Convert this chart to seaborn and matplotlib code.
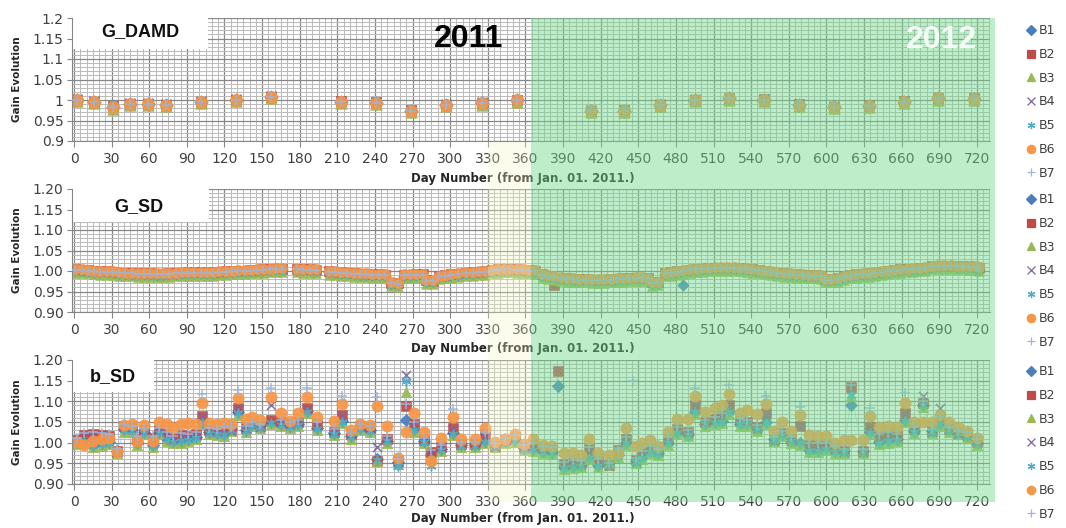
import numpy as np
import pandas as pd
import matplotlib
matplotlib.use("Agg")
import matplotlib.pyplot as plt
import seaborn as sns
from matplotlib import font_manager
from matplotlib.lines import Line2D
from matplotlib.patches import Rectangle
from matplotlib.ticker import MultipleLocator
from matplotlib.transforms import blended_transform_factory

sns.set_theme(style="white")
plt.rcParams["font.family"] = ["DejaVu Sans"]

# ---------------------------------------------------------------- bands
BANDS = ["B1", "B2", "B3", "B4", "B5", "B6", "B7"]
band_colors = ["#4A7EBB", "#BE4B48", "#98B954", "#8064A2", "#4BACC6", "#F79646", "#9DB5D8"]
band_markers = ["D", "s", "^", "x", (6, 2, 0), "o", "+"]
band_sizes = [40, 52, 58, 42, 42, 66, 44]

# ---------------------------------------------------------------- G_DAMD
gdamd_days = [2, 16, 31, 45, 59, 73, 101, 129, 157, 213, 241, 269, 297, 325, 353,
              412, 439, 467, 495, 522, 550, 578, 606, 634, 662, 689, 718]
gdamd_level = [1.000, 0.995, 0.984, 0.990, 0.990, 0.988, 0.995, 1.000, 1.007, 0.996,
               0.993, 0.974, 0.988, 0.992, 0.999, 0.973, 0.974, 0.988, 1.000, 1.004,
               1.001, 0.989, 0.983, 0.986, 0.996, 1.004, 1.003]
gdamd_offsets = [0.000, 0.001, -0.003, 0.002, -0.001, 0.000, 0.000]
gdamd_overrides = {"B3": {31: 0.979}}

# ---------------------------------------------------------------- G_SD
gsd_days = [1, 6, 11, 16, 21, 26, 31, 36, 41, 46, 51, 56, 61, 66, 71, 76, 81, 86, 91, 96,
            101, 106, 111, 116, 121, 126, 131, 136, 141, 146, 151, 156, 161, 166,
            178, 183, 188, 193, 203, 208, 213, 218, 223, 228, 233, 238, 243, 248, 253, 258,
            263, 268, 273, 278, 281, 286, 291, 296, 301, 306, 313, 318, 323, 328, 333, 338,
            343, 348, 353, 358, 363, 368, 373, 378, 383, 388, 393, 398, 403, 408, 413, 418,
            423, 428, 433, 438, 443, 448, 453, 458, 461, 466, 471, 476, 481, 486, 491, 496,
            501, 506, 511, 516, 521, 526, 531, 536, 541, 546, 551, 556, 561, 566, 571, 576,
            581, 586, 591, 596, 599, 604, 609, 614, 619, 624, 629, 634, 639, 644, 649, 654,
            659, 664, 669, 674, 679, 684, 689, 694, 699, 704, 709, 714, 719, 722]
gsd_level = [1.002, 1.001, 1.000, 0.998, 0.997, 0.997, 0.996, 0.994, 0.993, 0.993,
             0.992, 0.992, 0.992, 0.991, 0.991, 0.992, 0.993, 0.994, 0.995, 0.995,
             0.995, 0.995, 0.995, 0.996, 0.997, 0.998, 0.999, 0.999, 1.000, 1.001,
             1.002, 1.003, 1.004, 1.004,
             1.003, 1.002, 1.002, 1.001, 0.997, 0.996, 0.995, 0.994, 0.992, 0.991,
             0.991, 0.990, 0.990, 0.989, 0.969, 0.968,
             0.989, 0.989, 0.990, 0.990, 0.975, 0.974, 0.986, 0.988, 0.990, 0.991,
             0.994, 0.995, 0.996, 0.997, 1.000, 1.002,
             1.003, 1.003, 1.002, 1.001, 1.000, 0.999, 0.990, 0.987, 0.985, 0.982,
             0.980, 0.979, 0.978, 0.978, 0.977, 0.977,
             0.977, 0.978, 0.979, 0.980, 0.981, 0.982, 0.982, 0.981, 0.970, 0.971,
             0.993, 0.995, 0.997, 0.999, 1.001, 1.003,
             1.004, 1.005, 1.006, 1.006, 1.006, 1.006, 1.005, 1.004, 1.002, 1.000,
             0.998, 0.996, 0.994, 0.992, 0.991, 0.990,
             0.989, 0.988, 0.988, 0.987, 0.978, 0.978, 0.980, 0.985, 0.988, 0.990,
             0.991, 0.992, 0.994, 0.996, 0.998, 1.000,
             1.002, 1.003, 1.004, 1.005, 1.006, 1.010, 1.011, 1.011, 1.011, 1.010,
             1.010, 1.009, 1.008, 1.006]
gsd_offsets = [0.000, 0.002, -0.006, 0.001, -0.002, 0.003, 0.001]
gsd_overrides = {"B1": {486: 0.966}, "B2": {383: 0.967}}

# ---------------------------------------------------------------- b_SD
bsd_days = [2, 8, 15, 22, 28, 34, 40, 46, 50, 56, 63, 68, 74, 79, 85, 91, 97, 102, 108,
            114, 120, 125, 131, 137, 142, 148, 157, 165, 172, 179, 186, 194, 207, 214,
            221, 228, 236, 242, 250, 258, 265, 271, 279, 285, 293, 302, 309, 320, 328,
            336, 344, 352, 359, 366, 374, 381, 391, 398, 404, 411, 418, 427, 434, 440,
            448, 453, 459, 466, 474, 481, 490, 495, 503, 511, 517, 522, 531, 537, 545,
            552, 558, 565, 572, 579, 586, 593, 600, 607, 614, 620, 629, 635, 642, 649,
            656, 663, 670, 677, 684, 691, 698, 705, 712, 720]
bsd_b6 = [1.002, 0.995, 1.003, 1.008, 1.012, 0.978, 1.043, 1.045, 1.005, 1.043, 1.005,
          1.050, 1.045, 1.035, 1.045, 1.048, 1.045, 1.097, 1.048, 1.045, 1.048, 1.045,
          1.107, 1.058, 1.062, 1.055, 1.110, 1.071, 1.052, 1.072, 1.110, 1.063, 1.052,
          1.093, 1.030, 1.045, 1.043, 1.089, 1.040, 0.964, 1.027, 1.072, 1.027, 0.956,
          1.012, 1.062, 1.008, 1.008, 1.035, 1.002, 1.010, 1.022, 0.997, 1.010, 0.995,
          0.992, 0.974, 0.974, 0.970, 1.009, 0.976, 0.970, 0.975, 1.035, 0.991, 1.000,
          1.006, 0.991, 1.027, 1.058, 1.058, 1.113, 1.075, 1.083, 1.092, 1.117, 1.072,
          1.079, 1.069, 1.093, 1.029, 1.050, 1.029, 1.067, 1.019, 1.016, 1.016, 0.999,
          1.007, 1.007, 1.007, 1.064, 1.037, 1.041, 1.037, 1.096, 1.050, 1.050, 1.050,
          1.067, 1.050, 1.037, 1.029, 1.012]
bsd_b2 = [1.006, 1.018, 1.020, 1.018, 1.015, 0.980, 1.040, 1.035, 1.010, 1.030, 1.012,
          1.030, 1.020, 1.012, 1.018, 1.015, 1.020, 1.064, 1.030, 1.028, 1.035, 1.032,
          1.085, 1.035, 1.045, 1.040, 1.055, 1.050, 1.045, 1.050, 1.085, 1.045, 1.027,
          1.068, 1.022, 1.040, 1.035, 0.956, 1.010, 0.956, 1.089, 1.044, 1.006, 0.977,
          0.990, 1.035, 0.997, 0.997, 1.020, 0.993, 1.006, 1.014, 0.990, 0.995, 0.988,
          0.985, 0.949, 0.952, 0.950, 0.985, 0.955, 0.946, 0.982, 1.008, 0.957, 0.975,
          0.987, 0.980, 1.008, 1.033, 1.025, 1.092, 1.050, 1.058, 1.066, 1.092, 1.054,
          1.050, 1.037, 1.071, 1.008, 1.024, 1.008, 1.041, 0.995, 0.995, 0.995, 0.987,
          0.980, 1.134, 0.980, 1.037, 1.016, 1.020, 1.016, 1.071, 1.033, 1.096, 1.029,
          1.058, 1.033, 1.024, 1.020, 1.003]
bsd_b3 = [0.996, 1.000, 0.990, 0.993, 0.997, 0.974, 1.027, 1.025, 0.995, 1.020, 0.990,
          1.020, 1.005, 0.998, 1.000, 1.003, 1.008, 1.045, 1.020, 1.018, 1.015, 1.028,
          1.068, 1.025, 1.040, 1.035, 1.045, 1.040, 1.035, 1.040, 1.072, 1.030, 1.018,
          1.048, 1.010, 1.030, 1.025, 0.956, 1.000, 0.948, 1.123, 1.027, 0.998, 0.965,
          0.980, 1.018, 0.990, 0.990, 0.998, 0.990, 0.998, 1.002, 0.982, 0.980, 0.974,
          0.972, 0.936, 0.938, 0.940, 0.960, 0.940, 0.948, 0.965, 0.995, 0.951, 0.960,
          0.975, 0.970, 0.995, 1.020, 1.016, 1.070, 1.041, 1.045, 1.048, 1.070, 1.041,
          1.041, 1.029, 1.045, 1.003, 1.016, 1.000, 0.995, 0.978, 0.978, 0.982, 0.974,
          0.974, 1.113, 0.974, 1.020, 0.997, 1.000, 1.003, 1.050, 1.024, 1.087, 1.024,
          1.041, 1.027, 1.020, 1.012, 0.995]
# each band follows one of the three curves above, shifted slightly
bsd_follow = ["B3", "B2", "B3", "B2", "B3", "B6", "B2"]
bsd_offsets = [0.005, 0.0, 0.0, -0.003, 0.003, 0.0, 0.005]
bsd_overrides = {
    "B1": {265: 1.054, 620: 1.092},
    "B4": {157: 1.090, 242: 0.990, 265: 1.164, 677: 1.113, 691: 1.083},
    "B5": {258: 0.943, 265: 1.150, 285: 0.943},
    "B7": {102: 1.117, 131: 1.127, 157: 1.133, 186: 1.133, 214: 1.112, 242: 1.110,
           302: 1.082, 495: 1.132, 522: 1.140, 552: 1.112, 579: 1.087, 635: 1.085,
           663: 1.120},
}
bsd_extra = {"B1": [(386, 1.138)], "B2": [(386, 1.173)], "B7": [(446, 1.148)]}


def long_frame(days, curves, follow, offsets, overrides, extra=None):
    rows = []
    for band, src, off in zip(BANDS, follow, offsets):
        ov = overrides.get(band, {})
        for d, v in zip(days, curves[src]):
            rows.append((d, ov.get(d, round(v + off, 4)), band))
        for d, v in (extra or {}).get(band, []):
            rows.append((d, v, band))
    return pd.DataFrame(rows, columns=["day", "gain", "band"]).sort_values(["band", "day"])


df_damd = long_frame(gdamd_days, {"L": gdamd_level}, ["L"] * 7, gdamd_offsets, gdamd_overrides)
df_gsd = long_frame(gsd_days, {"L": gsd_level}, ["L"] * 7, gsd_offsets, gsd_overrides)
df_bsd = long_frame(bsd_days, {"B6": bsd_b6, "B2": bsd_b2, "B3": bsd_b3},
                    bsd_follow, bsd_offsets, bsd_overrides, bsd_extra)

# ---------------------------------------------------------------- figure
W, H = 1066, 528
fig = plt.figure(figsize=(W / 100, H / 100), dpi=100)
fig.patch.set_facecolor("white")

X0, X1 = 72, 990
panels = [(18, 141), (189, 312), (360, 484)]
axes = [fig.add_axes([X0 / W, 1 - b / H, (X1 - X0) / W, (b - t) / H]) for t, b in panels]

TXT = "#404040"
GRID_MAJOR = "#878787"
GRID_MINOR = "#bcbcbc"

ylabels_plain = ["0.9", "0.95", "1", "1.05", "1.1", "1.15", "1.2"]
ylabels_2dp = ["0.90", "0.95", "1.00", "1.05", "1.10", "1.15", "1.20"]

cfg = [
    dict(df=df_damd, title="G_DAMD", box=(107, 1.124), tpos=(53, 1.166), ylab=ylabels_plain,
         scale=1.2, xlab_y=-0.252),
    dict(df=df_gsd, title="G_SD", box=(108, 1.120), tpos=(52, 1.158), ylab=ylabels_2dp,
         scale=0.85, xlab_y=-0.245),
    dict(df=df_bsd, title="b_SD", box=(64, 1.122), tpos=(31, 1.160), ylab=ylabels_2dp,
         scale=1.0, xlab_y=-0.225),
]

legend_centers = [102, 271, 443]

for ax, c, lc in zip(axes, cfg, legend_centers):
    ax.set_facecolor("white")
    ax.set_xlim(-1.6, 730.5)
    ax.set_ylim(0.9, 1.2)
    ax.set_xticks(np.arange(0, 721, 30))
    ax.xaxis.set_minor_locator(MultipleLocator(5))
    ax.set_yticks(np.round(np.arange(0.9, 1.2001, 0.05), 2))
    ax.set_yticklabels(c["ylab"])
    ax.yaxis.set_minor_locator(MultipleLocator(0.01))
    ax.set_axisbelow(True)
    ax.grid(which="major", color=GRID_MAJOR, lw=0.9)
    ax.grid(which="minor", color=GRID_MINOR, lw=0.75)
    ax.tick_params(which="minor", length=0)
    ax.tick_params(axis="both", which="major", bottom=True, left=True, direction="out",
                   color="#868686", width=0.8, labelsize=10, labelcolor=TXT)
    ax.tick_params(axis="y", length=3.5, pad=2.5)
    ax.tick_params(axis="x", length=4, pad=4)
    for s in ("top", "right"):
        ax.spines[s].set_visible(False)
    for s in ("left", "bottom"):
        ax.spines[s].set_color("#868686")
        ax.spines[s].set_linewidth(0.8)

    # white label box in the upper-left corner
    bx, by = c["box"]
    ax.add_patch(Rectangle((-1.6, by), bx + 1.6, 1.204 - by, facecolor="white",
                           edgecolor="none", zorder=1, clip_on=False))
    ax.text(*c["tpos"], c["title"], ha="center", va="center", fontsize=13,
            fontweight="bold", family=["Liberation Sans", "DejaVu Sans"], color="#111111", zorder=4)

    df = c["df"]
    for i, band in enumerate(BANDS):
        sub = df[df["band"] == band]
        kw = dict(marker=band_markers[i], color=band_colors[i], s=band_sizes[i] * c["scale"],
                  alpha=0.92, zorder=2 + i * 0.1, legend=False)
        if band_markers[i] in ("D", "s", "^", "o"):
            kw["edgecolor"] = band_colors[i]
            kw["linewidth"] = 0.4
        else:
            kw["linewidth"] = 1.1
        sns.scatterplot(data=sub, x="day", y="gain", ax=ax, **kw)
        if df is df_bsd and band == "B5":
            sns.lineplot(data=sub, x="day", y="gain", ax=ax, color="#7FC4DA", lw=0.6,
                         alpha=0.6, zorder=1.9, legend=False, errorbar=None)

    ax.set_xlabel("Day Number (from Jan. 01. 2011.)", fontsize=8.5, fontweight="bold",
                  color="#262626")
    ax.xaxis.set_label_coords(0.491, c["xlab_y"])
    ax.set_ylabel("Gain Evolution", fontsize=7.5, fontweight="bold", color="#262626")
    ax.yaxis.set_label_coords(-0.054, 0.5)

    handles = [Line2D([], [], linestyle="None", marker=m, color=col,
                      markersize=(6 if m in ("s", "o") else 5.2), markeredgewidth=0.9,
                      label=b)
               for b, m, col in zip(BANDS, band_markers, band_colors)]
    ax.legend(handles=handles, loc="center left", bbox_to_anchor=(1020 / W, 1 - lc / H),
              bbox_transform=fig.transFigure, frameon=False, fontsize=9,
              handlelength=0.8, handletextpad=0.2, labelspacing=0.86, borderpad=0,
              labelcolor=TXT)

# year captions
available = {f.name for f in font_manager.fontManager.ttflist}
year_family = next((f for f in ["Liberation Sans Narrow", "DejaVu Sans Condensed"]
                    if f in available), "Liberation Sans")
axes[0].text(315, 1.149, "2011", ha="center", va="center", fontsize=23,
             fontweight="bold", family=year_family, color="black", zorder=4)

# shaded 2012 block and the transition strip, spanning all three panels
blend = blended_transform_factory(axes[0].transData, fig.transFigure)
fig.add_artist(Rectangle((330, 1 - 502 / H), 34.5, (502 - 142) / H, transform=blend,
                         facecolor="#F3F8C0", alpha=0.3, edgecolor="none", zorder=5))
fig.add_artist(Rectangle((364.5, 1 - 502 / H), 370, (502 - 18) / H, transform=blend,
                         facecolor="#6FD98A", alpha=0.45, edgecolor="none", zorder=5))
fig.text(692, 1.147, "2012", transform=axes[0].transData, ha="center", va="center",
         fontsize=23, fontweight="bold", family=year_family, color="#F4FBF6", zorder=6)

fig.savefig("out.png", dpi=100, facecolor="white")
